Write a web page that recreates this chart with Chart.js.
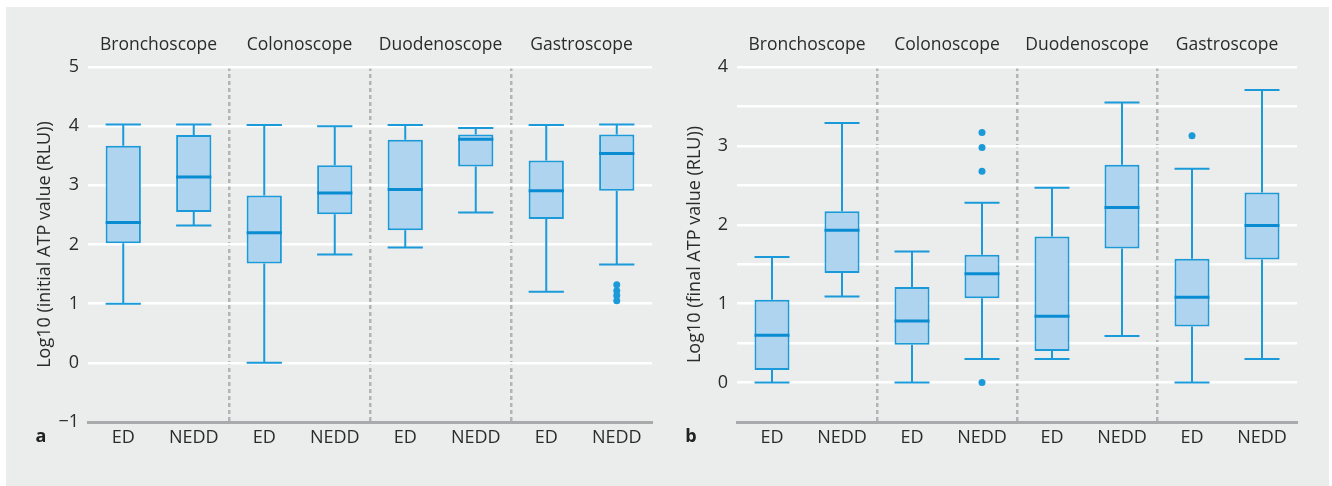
<!DOCTYPE html>
<html lang="en">
<head>
<meta charset="UTF-8">
<title>ATP boxplots</title>
<script src="https://cdn.jsdelivr.net/npm/chart.js"></script>
<style>
  body { margin: 0; background: #fff; width: 1332px; height: 486px; position: relative; overflow: hidden; }
  .fundo { position: absolute; left: 6px; top: 7px; width: 1323px; height: 479px; background: #ebecec; }
  canvas { position: absolute; top: 0; }
  #graficoA { left: 0; }
  #graficoB { left: 650px; }
</style>
</head>
<body>
<div class="fundo"></div>
<canvas id="graficoA" width="660" height="470"></canvas>
<canvas id="graficoB" width="682" height="470"></canvas>
<script>
// categorias
const grupos = ['Bronchoscope', 'Colonoscope', 'Duodenoscope', 'Gastroscope'];
const tipos = ['ED', 'NEDD', 'ED', 'NEDD', 'ED', 'NEDD', 'ED', 'NEDD'];

// painel a - initial ATP
const aMin = [1.0, 2.32, 0.0, 1.83, 1.95, 2.54, 1.2, 1.66];
const aQ1 = [2.02, 2.55, 1.68, 2.51, 2.24, 3.32, 2.43, 2.91];
const aMed = [2.37, 3.14, 2.2, 2.87, 2.93, 3.78, 2.91, 3.54];
const aQ3 = [3.67, 3.85, 2.83, 3.34, 3.77, 3.86, 3.42, 3.86];
const aMax = [4.03, 4.03, 4.02, 4.0, 4.02, 3.97, 4.02, 4.03];
const aOut = [[], [], [], [], [], [], [], [1.32, 1.22, 1.14, 1.05]];

// painel b - final ATP
const bMin = [0.0, 1.09, 0.0, 0.30, 0.30, 0.59, 0.0, 0.30];
const bQ1 = [0.16, 1.39, 0.48, 1.07, 0.40, 1.70, 0.71, 1.56];
const bMed = [0.60, 1.93, 0.78, 1.38, 0.84, 2.22, 1.08, 1.99];
const bQ3 = [1.05, 2.17, 1.21, 1.62, 1.85, 2.76, 1.57, 2.41];
const bMax = [1.59, 3.29, 1.66, 2.28, 2.47, 3.55, 2.71, 3.71];
const bOut = [[], [], [], [3.17, 2.98, 2.68, 0.0], [], [], [3.13], []];

const azul = '#1a9ad9';
const azulMediana = '#0a8cd2';
const azulClaro = '#aed4f0';
const corTexto = '#2b2b2b';

Chart.defaults.font.family = '"Open Sans", sans-serif';
Chart.defaults.color = corTexto;

function pluginCaixas(min, med, max, letra) {
    return {
        id: 'caixas',
        afterDatasetsDraw(chart) {
            const ctx = chart.ctx;
            const y = chart.scales.y;
            const meta = chart.getDatasetMeta(0);
            ctx.save();
            meta.data.forEach((bar, i) => {
                const meio = bar.x;
                const w = bar.width;
                const topo = Math.min(bar.y, bar.base);
                const base = Math.max(bar.y, bar.base);
                const pMax = y.getPixelForValue(max[i]);
                const pMin = y.getPixelForValue(min[i]);
                ctx.strokeStyle = azul;
                ctx.lineWidth = 2;
                ctx.beginPath();
                ctx.moveTo(meio, topo);
                ctx.lineTo(meio, pMax);
                ctx.moveTo(meio - w / 2, pMax);
                ctx.lineTo(meio + w / 2, pMax);
                ctx.moveTo(meio, base);
                ctx.lineTo(meio, pMin);
                ctx.moveTo(meio - w / 2, pMin);
                ctx.lineTo(meio + w / 2, pMin);
                ctx.stroke();
                const pMed = y.getPixelForValue(med[i]);
                ctx.strokeStyle = azulMediana;
                ctx.lineWidth = 3;
                ctx.beginPath();
                ctx.moveTo(meio - w / 2, pMed);
                ctx.lineTo(meio + w / 2, pMed);
                ctx.stroke();
            });
            ctx.restore();
        },
        afterDraw(chart) {
            const ctx = chart.ctx;
            ctx.save();
            ctx.font = 'bold 18px "Open Sans", sans-serif';
            ctx.fillStyle = '#222';
            ctx.textAlign = 'center';
            ctx.textBaseline = 'middle';
            ctx.fillText(letra, 41, 437);
            ctx.restore();
        }
    };
}

function montarGrafico(id, q1, q3, outliers, eixo, pluginExtra, padDireita) {
    const datasets = [{
        type: 'bar',
        data: q1.map((v, i) => [v, q3[i]]),
        backgroundColor: azulClaro,
        borderColor: azul,
        borderWidth: 2,
        borderSkipped: false,
        barPercentage: 0.5,
        categoryPercentage: 1.0
    }];
    const maxOut = Math.max(...outliers.map(o => o.length));
    for (let k = 0; k < maxOut; k++) {
        datasets.push({
            type: 'line',
            data: outliers.map(o => (o[k] === undefined ? null : o[k])),
            showLine: false,
            pointRadius: 3.5,
            pointBackgroundColor: azul,
            pointBorderWidth: 0,
            borderColor: 'transparent'
        });
    }

    return new Chart(document.getElementById(id), {
        type: 'bar',
        data: { labels: tipos, datasets: datasets },
        plugins: [pluginExtra],
        options: {
            responsive: false,
            animation: false,
            layout: { padding: { left: 0, right: padDireita, top: 0, bottom: 0 } },
            plugins: { legend: { display: false }, tooltip: { enabled: false } },
            scales: {
                x: {
                    position: 'bottom',
                    offset: true,
                    grid: { display: false, drawTicks: false },
                    border: { display: true, color: '#a9aaab', width: 3 },
                    ticks: { font: { size: 18 }, padding: 5, color: corTexto },
                    afterFit: (s) => { s.height = 48; }
                },
                x2: {
                    type: 'category',
                    position: 'top',
                    labels: grupos,
                    offset: true,
                    grid: {
                        offset: true,
                        drawTicks: false,
                        lineWidth: 2.5,
                        color: (c) => (c.index === 0 || c.index === undefined) ? 'transparent' : '#b3b4b5'
                    },
                    border: { display: false, dash: [4, 3] },
                    ticks: { font: { size: 17.5 }, padding: 11, color: corTexto },
                    afterFit: (s) => { s.height = 67; }
                },
                y: eixo
            }
        }
    });
}

function eixoY(min, max, passo, titulo, largura) {
    return {
        min: min,
        max: max,
        ticks: {
            stepSize: passo,
            padding: 9,
            font: { size: 18 },
            color: corTexto,
            callback: (v) => {
                if (!Number.isInteger(v)) return '';
                return v < 0 ? '\u2212' + Math.abs(v) : String(v);
            }
        },
        grid: { color: '#ffffff', lineWidth: 2.5, drawTicks: false },
        border: { display: false },
        title: { display: true, text: titulo, font: { size: 18 }, color: corTexto, padding: { top: 34, bottom: 0 } },
        afterFit: (s) => { s.width = largura; }
    };
}

const graficoA = montarGrafico('graficoA', aQ1, aQ3, aOut,
    eixoY(-1, 5, 1, 'Log10 (initial ATP value (RLU))', 88),
    pluginCaixas(aMin, aMed, aMax, 'a'), 8);

const graficoB = montarGrafico('graficoB', bQ1, bQ3, bOut,
    eixoY(-0.5, 4, 0.5, 'Log10 (final ATP value (RLU))', 87),
    pluginCaixas(bMin, bMed, bMax, 'b'), 35);

// linhas pontilhadas entre grupos
[graficoA, graficoB].forEach(g => {
    g.options.scales.x2.grid.borderDash = [4, 3];
    g.options.scales.x2.border.dash = [4, 3];
    g.update();
});
</script>
</body>
</html>
